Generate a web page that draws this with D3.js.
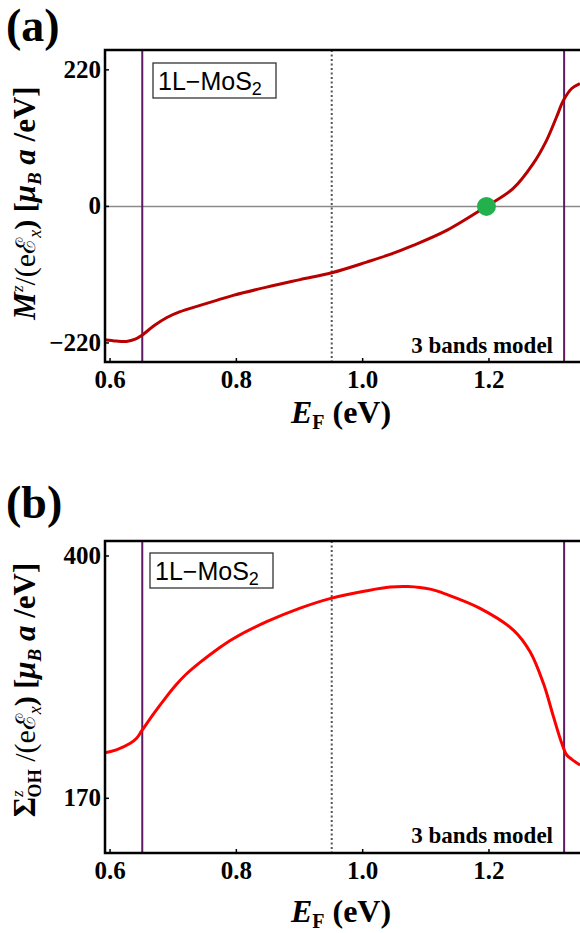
<!DOCTYPE html>
<html><head><meta charset="utf-8">
<script src="https://cdn.jsdelivr.net/npm/d3@7"></script>
<style>body{margin:0;background:#fff}svg{display:block}</style>
</head><body>
<script>
// ---- data ----
const xTicks = [0.6, 0.8, 1.0, 1.2];
const xTickLabels = ["0.6", "0.8", "1.0", "1.2"];
const vLines = [0.651, 1.319];
const dottedLine = 0.951;

const efA = [0.592, 0.61, 0.626, 0.64, 0.65, 0.67, 0.69, 0.71, 0.7425, 0.77, 0.795, 0.848, 0.901, 0.951, 1.0065, 1.0434, 1.08, 1.133, 1.196, 1.238, 1.27, 1.291, 1.307, 1.318, 1.331, 1.344];
const magA = [-214.8, -217, -217.6, -214, -208, -192, -179, -170, -159.5, -151, -143.4, -130, -118, -106.9, -89.7, -77.4, -62.9, -38.7, 0, 28.5, 68.8, 106, 144, 171, 190, 198];
const yTicksA = [220, 0, -220];
const yTickLabelsA = ["220", "0", "\u2212220"];
const zeroPoint = [1.196, 0];

const efB = [0.592, 0.61, 0.632, 0.642, 0.65, 0.67, 0.69, 0.705, 0.72, 0.7425, 0.77, 0.795, 0.848, 0.901, 0.951, 1.0065, 1.0434, 1.0715, 1.107, 1.1332, 1.1859, 1.2387, 1.2651, 1.2862, 1.3021, 1.3153, 1.3232, 1.3311, 1.3443];
const sigB = [213.3, 216, 222.2, 227, 233.9, 251, 267, 278, 287.5, 299, 311.5, 321.5, 337.6, 350.5, 360, 367, 370.5, 371, 368.5, 363.5, 350.3, 329.7, 309.1, 279.1, 247.5, 222.2, 211.1, 207, 201.6];
const yTicksB = [400, 170];
const yTickLabelsB = ["400", "170"];

const legendText = "1L\u2212MoS";
const modelText = "3 bands model";

// ---- drawing ----
const W = 580, H = 933;
const svg = d3.select("body").append("svg").attr("width", W).attr("height", H);
const serif = "'Liberation Serif','Times New Roman',serif";
const sans = "'Liberation Sans',Arial,sans-serif";

const x = d3.scaleLinear().domain([0.592, 1.35]).range([105, 583.7]);

function rich(g, segs) {
  let prev = 0;
  segs.forEach(s => {
    const sh = s.shift || 0;
    const t = g.append("tspan").text(s.t)
      .attr("font-size", s.size)
      .attr("font-weight", s.w || "normal")
      .attr("font-style", s.i ? "italic" : "normal")
      .attr("dy", sh - prev);
    if (s.dx) t.attr("dx", s.dx);
    prev = sh;
  });
}

function panel(cfg) {
  const {top, bottom, y, yTicks, yLabels, data, color, label, labelY, yTitle, titleY, boxY, modelY, xTitleY, tickY} = cfg;
  const g = svg.append("g");
  const clipId = "clip" + label.replace(/\W/g, "");
  svg.append("clipPath").attr("id", clipId)
    .append("rect").attr("x", 105).attr("y", top).attr("width", 480).attr("height", bottom - top);

  const plot = g.append("g").attr("clip-path", `url(#${clipId})`);
  if (cfg.zero) {
    plot.append("line").attr("x1", 105).attr("x2", 590).attr("y1", y(0)).attr("y2", y(0))
      .attr("stroke", "#8a8a8a").attr("stroke-width", 1.5);
  }
  plot.append("line").attr("x1", x(dottedLine)).attr("x2", x(dottedLine)).attr("y1", top).attr("y2", bottom)
    .attr("stroke", "#555").attr("stroke-width", 2).attr("stroke-dasharray", "2,2.5");
  vLines.forEach(v => plot.append("line").attr("x1", x(v)).attr("x2", x(v)).attr("y1", top).attr("y2", bottom)
    .attr("stroke", "#5e1a63").attr("stroke-width", 2));
  const line = d3.line().x(d => x(d[0])).y(d => y(d[1])).curve(d3.curveCatmullRom.alpha(0.5));
  plot.append("path").datum(data).attr("d", line).attr("fill", "none")
    .attr("stroke", color).attr("stroke-width", 3);
  if (cfg.dot) {
    plot.append("circle").attr("cx", x(cfg.dot[0])).attr("cy", y(cfg.dot[1])).attr("r", 9.5).attr("fill", "#22b14c");
  }

  // frame
  g.append("path").attr("d", `M590,${top}H105V${bottom}H590`).attr("fill", "none")
    .attr("stroke", "#000").attr("stroke-width", 2.5);
  // ticks
  xTicks.forEach(v => g.append("line").attr("x1", x(v)).attr("x2", x(v)).attr("y1", bottom).attr("y2", bottom - 4)
    .attr("stroke", "#000").attr("stroke-width", 1.5));
  yTicks.forEach(v => g.append("line").attr("x1", 105).attr("x2", 109).attr("y1", y(v)).attr("y2", y(v))
    .attr("stroke", "#000").attr("stroke-width", 1.5));

  // tick labels
  xTicks.forEach((v, i) => g.append("text").attr("x", x(v)).attr("y", tickY).attr("text-anchor", "middle")
    .attr("font-family", serif).attr("font-weight", "bold").attr("font-size", 25).text(xTickLabels[i]));
  yTicks.forEach((v, i) => g.append("text").attr("x", 101).attr("y", y(v) + 8).attr("text-anchor", "end")
    .attr("font-family", serif).attr("font-weight", "bold").attr("font-size", 25).text(yLabels[i]));

  // legend box
  g.append("rect").attr("x", cfg.boxX).attr("y", boxY).attr("width", 123).attr("height", 35)
    .attr("fill", "#fff").attr("stroke", "#333").attr("stroke-width", 1.3);
  const lt = g.append("text").attr("x", cfg.boxX + 5).attr("y", boxY + 27).attr("font-family", sans).attr("fill", "#000");
  rich(lt, [{t: legendText, size: 25}, {t: "2", size: 18, shift: 5}]);

  // model text
  g.append("text").attr("x", 553).attr("y", modelY).attr("text-anchor", "end")
    .attr("font-family", serif).attr("font-weight", "bold").attr("font-size", 23).text(modelText);

  // panel label
  g.append("text").attr("x", 6).attr("y", labelY).attr("font-family", serif).attr("font-weight", "bold")
    .attr("font-size", 46).text(label);

  // x title
  const xt = g.append("text").attr("x", 341).attr("y", xTitleY).attr("text-anchor", "middle")
    .attr("font-family", serif).attr("font-weight", "bold");
  rich(xt, [{t: "E", size: 32, i: true, w: "bold"}, {t: "F", size: 20, w: "bold", shift: 6}, {t: " (eV)", size: 32, w: "bold", shift: 0}]);

  // y title
  const yt = g.append("text").attr("transform", `translate(35,${titleY}) rotate(-90)`).attr("text-anchor", "middle")
    .attr("font-family", serif);
  rich(yt, yTitle);
}

const yA = d3.scaleLinear().domain([-250.7, 252]).range([362, 50]);
panel({
  top: 50, bottom: 362, y: yA, yTicks: yTicksA, yLabels: yTickLabelsA,
  data: efA.map((e, i) => [e, magA[i]]), color: "#b80000", label: "(a)", labelY: 41,
  zero: true, dot: zeroPoint, boxX: 153, boxY: 63, modelY: 353, tickY: 388, xTitleY: 423, titleY: 203,
  yTitle: [
    {t: "M", size: 31, i: true, w: "bold"}, {t: "z", size: 17, i: true, shift: -12},
    {t: "/(e", size: 30, shift: 0}, {t: "\u2130", size: 27}, {t: "x", size: 18, i: true, shift: 6},
    {t: ") [", size: 30, shift: 0, w: "bold"}, {t: "\u03bc", size: 31, i: true, w: "bold"},
    {t: "B", size: 19, i: true, w: "bold", shift: 6}, {t: " a", size: 31, i: true, w: "bold", shift: 0},
    {t: " /eV]", size: 31, w: "bold"}
  ]
});

const yB = d3.scaleLinear().domain([118.1, 414.2]).range([853, 541]);
panel({
  top: 541, bottom: 853, y: yB, yTicks: yTicksB, yLabels: yTickLabelsB,
  data: efB.map((e, i) => [e, sigB[i]]), color: "#ff0000", label: "(b)", labelY: 518,
  zero: false, dot: null, boxX: 150, boxY: 553, modelY: 843, tickY: 879, xTitleY: 922, titleY: 690,
  yTitle: [
    {t: "\u03a3", size: 31, w: "bold"}, {t: "z", size: 17, i: true, shift: -12},
    {t: "OH", size: 18, w: "bold", shift: 6, dx: -7},
    {t: " /(e", size: 30, shift: 0}, {t: "\u2130", size: 27}, {t: "x", size: 18, i: true, shift: 6},
    {t: ") [", size: 30, shift: 0, w: "bold"}, {t: "\u03bc", size: 31, i: true, w: "bold"},
    {t: "B", size: 19, i: true, w: "bold", shift: 6}, {t: " a", size: 31, i: true, w: "bold", shift: 0},
    {t: " /eV]", size: 31, w: "bold"}
  ]
});
</script>
</body></html>
